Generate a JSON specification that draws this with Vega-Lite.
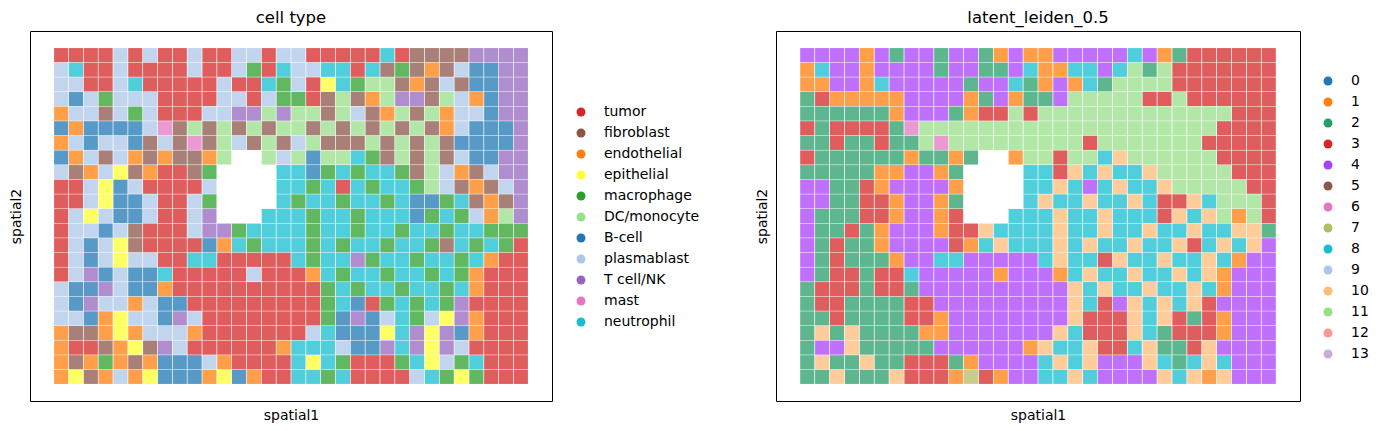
{
"$schema":"https://vega.github.io/schema/vega-lite/v6.json",
"padding":{"left":8,"top":9,"right":0,"bottom":0},
"bounds":"flush",
"spacing":224,
"config":{
"view":{"stroke":"#000","strokeWidth":1},
"font":"DejaVu Sans",
"axis":{"ticks":false,"labels":false,"grid":false,"domain":false,"titleFont":"DejaVu Sans","titleFontSize":14,"titleFontWeight":"normal","titleColor":"#000","titlePadding":7},
"title":{"font":"DejaVu Sans","fontSize":16.5,"fontWeight":"normal","color":"#000","baseline":"bottom","offset":5},
"legend":{"labelFont":"DejaVu Sans","labelFontSize":14,"labelColor":"#000","rowPadding":7,"labelOffset":16,"padding":0,"symbolType":"circle","symbolSize":80,"symbolStrokeWidth":0,"symbolOpacity":1}
},
"datasets":{
"types":[{"code":"T","name":"tumor"},{"code":"F","name":"fibroblast"},{"code":"E","name":"endothelial"},{"code":"Y","name":"epithelial"},{"code":"M","name":"macrophage"},{"code":"D","name":"DC/monocyte"},{"code":"B","name":"B-cell"},{"code":"P","name":"plasmablast"},{"code":"K","name":"T cell/NK"},{"code":"S","name":"mast"},{"code":"N","name":"neutrophil"}],
"cells":[
{"x":0,"y":0,"c":"T","l":4},{"x":1,"y":0,"c":"T","l":4},{"x":2,"y":0,"c":"T","l":4},{"x":3,"y":0,"c":"T","l":4},{"x":4,"y":0,"c":"P","l":1},{"x":5,"y":0,"c":"T","l":4},{"x":6,"y":0,"c":"P","l":2},{"x":7,"y":0,"c":"T","l":4},{"x":8,"y":0,"c":"T","l":4},{"x":9,"y":0,"c":"P","l":2},{"x":10,"y":0,"c":"T","l":4},{"x":11,"y":0,"c":"T","l":4},{"x":12,"y":0,"c":"P","l":2},{"x":13,"y":0,"c":"P","l":1},{"x":14,"y":0,"c":"T","l":4},{"x":15,"y":0,"c":"P","l":1},{"x":16,"y":0,"c":"P","l":1},{"x":17,"y":0,"c":"T","l":4},{"x":18,"y":0,"c":"T","l":4},{"x":19,"y":0,"c":"T","l":4},{"x":20,"y":0,"c":"T","l":4},{"x":21,"y":0,"c":"T","l":4},{"x":22,"y":0,"c":"N","l":8},{"x":23,"y":0,"c":"T","l":4},{"x":24,"y":0,"c":"F","l":1},{"x":25,"y":0,"c":"F","l":2},{"x":26,"y":0,"c":"F","l":3},{"x":27,"y":0,"c":"F","l":3},{"x":28,"y":0,"c":"K","l":3},{"x":29,"y":0,"c":"K","l":3},{"x":30,"y":0,"c":"K","l":3},{"x":31,"y":0,"c":"K","l":3},
{"x":0,"y":1,"c":"P","l":1},{"x":1,"y":1,"c":"N","l":8},{"x":2,"y":1,"c":"T","l":4},{"x":3,"y":1,"c":"T","l":4},{"x":4,"y":1,"c":"P","l":1},{"x":5,"y":1,"c":"T","l":4},{"x":6,"y":1,"c":"T","l":4},{"x":7,"y":1,"c":"T","l":4},{"x":8,"y":1,"c":"T","l":4},{"x":9,"y":1,"c":"P","l":2},{"x":10,"y":1,"c":"T","l":4},{"x":11,"y":1,"c":"T","l":4},{"x":12,"y":1,"c":"P","l":2},{"x":13,"y":1,"c":"M","l":2},{"x":14,"y":1,"c":"T","l":4},{"x":15,"y":1,"c":"N","l":8},{"x":16,"y":1,"c":"P","l":1},{"x":17,"y":1,"c":"P","l":1},{"x":18,"y":1,"c":"N","l":8},{"x":19,"y":1,"c":"N","l":8},{"x":20,"y":1,"c":"T","l":4},{"x":21,"y":1,"c":"N","l":8},{"x":22,"y":1,"c":"F","l":11},{"x":23,"y":1,"c":"M","l":2},{"x":24,"y":1,"c":"F","l":11},{"x":25,"y":1,"c":"E","l":3},{"x":26,"y":1,"c":"F","l":3},{"x":27,"y":1,"c":"P","l":3},{"x":28,"y":1,"c":"B","l":3},{"x":29,"y":1,"c":"B","l":3},{"x":30,"y":1,"c":"K","l":3},{"x":31,"y":1,"c":"K","l":3},
{"x":0,"y":2,"c":"P","l":1},{"x":1,"y":2,"c":"P","l":1},{"x":2,"y":2,"c":"T","l":4},{"x":3,"y":2,"c":"T","l":4},{"x":4,"y":2,"c":"P","l":1},{"x":5,"y":2,"c":"N","l":8},{"x":6,"y":2,"c":"T","l":4},{"x":7,"y":2,"c":"T","l":4},{"x":8,"y":2,"c":"T","l":4},{"x":9,"y":2,"c":"T","l":4},{"x":10,"y":2,"c":"T","l":4},{"x":11,"y":2,"c":"P","l":2},{"x":12,"y":2,"c":"T","l":4},{"x":13,"y":2,"c":"T","l":4},{"x":14,"y":2,"c":"N","l":8},{"x":15,"y":2,"c":"M","l":2},{"x":16,"y":2,"c":"P","l":1},{"x":17,"y":2,"c":"T","l":4},{"x":18,"y":2,"c":"Y","l":1},{"x":19,"y":2,"c":"N","l":8},{"x":20,"y":2,"c":"M","l":2},{"x":21,"y":2,"c":"D","l":11},{"x":22,"y":2,"c":"D","l":11},{"x":23,"y":2,"c":"F","l":11},{"x":24,"y":2,"c":"E","l":11},{"x":25,"y":2,"c":"F","l":3},{"x":26,"y":2,"c":"P","l":3},{"x":27,"y":2,"c":"F","l":3},{"x":28,"y":2,"c":"B","l":3},{"x":29,"y":2,"c":"B","l":3},{"x":30,"y":2,"c":"K","l":3},{"x":31,"y":2,"c":"K","l":3},
{"x":0,"y":3,"c":"P","l":2},{"x":1,"y":3,"c":"B","l":3},{"x":2,"y":3,"c":"P","l":1},{"x":3,"y":3,"c":"M","l":1},{"x":4,"y":3,"c":"P","l":1},{"x":5,"y":3,"c":"P","l":1},{"x":6,"y":3,"c":"P","l":1},{"x":7,"y":3,"c":"T","l":4},{"x":8,"y":3,"c":"T","l":4},{"x":9,"y":3,"c":"T","l":4},{"x":10,"y":3,"c":"T","l":4},{"x":11,"y":3,"c":"P","l":1},{"x":12,"y":3,"c":"P","l":2},{"x":13,"y":3,"c":"T","l":4},{"x":14,"y":3,"c":"P","l":1},{"x":15,"y":3,"c":"M","l":2},{"x":16,"y":3,"c":"M","l":2},{"x":17,"y":3,"c":"T","l":4},{"x":18,"y":3,"c":"F","l":11},{"x":19,"y":3,"c":"D","l":11},{"x":20,"y":3,"c":"F","l":11},{"x":21,"y":3,"c":"E","l":11},{"x":22,"y":3,"c":"D","l":11},{"x":23,"y":3,"c":"K","l":3},{"x":24,"y":3,"c":"K","l":3},{"x":25,"y":3,"c":"F","l":11},{"x":26,"y":3,"c":"D","l":3},{"x":27,"y":3,"c":"P","l":3},{"x":28,"y":3,"c":"E","l":3},{"x":29,"y":3,"c":"B","l":3},{"x":30,"y":3,"c":"K","l":3},{"x":31,"y":3,"c":"K","l":3},
{"x":0,"y":4,"c":"E","l":2},{"x":1,"y":4,"c":"P","l":2},{"x":2,"y":4,"c":"P","l":2},{"x":3,"y":4,"c":"F","l":2},{"x":4,"y":4,"c":"P","l":2},{"x":5,"y":4,"c":"M","l":2},{"x":6,"y":4,"c":"P","l":1},{"x":7,"y":4,"c":"T","l":4},{"x":8,"y":4,"c":"T","l":4},{"x":9,"y":4,"c":"T","l":4},{"x":10,"y":4,"c":"P","l":2},{"x":11,"y":4,"c":"P","l":1},{"x":12,"y":4,"c":"K","l":3},{"x":13,"y":4,"c":"K","l":3},{"x":14,"y":4,"c":"D","l":11},{"x":15,"y":4,"c":"K","l":3},{"x":16,"y":4,"c":"D","l":11},{"x":17,"y":4,"c":"D","l":11},{"x":18,"y":4,"c":"F","l":11},{"x":19,"y":4,"c":"D","l":11},{"x":20,"y":4,"c":"P","l":11},{"x":21,"y":4,"c":"F","l":11},{"x":22,"y":4,"c":"E","l":11},{"x":23,"y":4,"c":"D","l":11},{"x":24,"y":4,"c":"F","l":11},{"x":25,"y":4,"c":"D","l":11},{"x":26,"y":4,"c":"E","l":11},{"x":27,"y":4,"c":"P","l":11},{"x":28,"y":4,"c":"P","l":11},{"x":29,"y":4,"c":"B","l":3},{"x":30,"y":4,"c":"K","l":3},{"x":31,"y":4,"c":"K","l":3},
{"x":0,"y":5,"c":"B","l":3},{"x":1,"y":5,"c":"E","l":2},{"x":2,"y":5,"c":"B","l":3},{"x":3,"y":5,"c":"B","l":3},{"x":4,"y":5,"c":"B","l":3},{"x":5,"y":5,"c":"B","l":3},{"x":6,"y":5,"c":"P","l":2},{"x":7,"y":5,"c":"S","l":6},{"x":8,"y":5,"c":"F","l":11},{"x":9,"y":5,"c":"D","l":11},{"x":10,"y":5,"c":"F","l":11},{"x":11,"y":5,"c":"D","l":11},{"x":12,"y":5,"c":"F","l":11},{"x":13,"y":5,"c":"D","l":11},{"x":14,"y":5,"c":"F","l":11},{"x":15,"y":5,"c":"D","l":11},{"x":16,"y":5,"c":"D","l":11},{"x":17,"y":5,"c":"F","l":11},{"x":18,"y":5,"c":"D","l":11},{"x":19,"y":5,"c":"F","l":11},{"x":20,"y":5,"c":"D","l":11},{"x":21,"y":5,"c":"F","l":11},{"x":22,"y":5,"c":"D","l":11},{"x":23,"y":5,"c":"F","l":11},{"x":24,"y":5,"c":"D","l":11},{"x":25,"y":5,"c":"F","l":11},{"x":26,"y":5,"c":"E","l":11},{"x":27,"y":5,"c":"P","l":11},{"x":28,"y":5,"c":"B","l":3},{"x":29,"y":5,"c":"B","l":3},{"x":30,"y":5,"c":"B","l":3},{"x":31,"y":5,"c":"K","l":3},
{"x":0,"y":6,"c":"E","l":2},{"x":1,"y":6,"c":"P","l":2},{"x":2,"y":6,"c":"B","l":3},{"x":3,"y":6,"c":"P","l":2},{"x":4,"y":6,"c":"P","l":2},{"x":5,"y":6,"c":"B","l":3},{"x":6,"y":6,"c":"F","l":2},{"x":7,"y":6,"c":"P","l":2},{"x":8,"y":6,"c":"F","l":11},{"x":9,"y":6,"c":"S","l":6},{"x":10,"y":6,"c":"F","l":11},{"x":11,"y":6,"c":"D","l":11},{"x":12,"y":6,"c":"P","l":11},{"x":13,"y":6,"c":"F","l":11},{"x":14,"y":6,"c":"D","l":11},{"x":15,"y":6,"c":"F","l":11},{"x":16,"y":6,"c":"P","l":11},{"x":17,"y":6,"c":"D","l":11},{"x":18,"y":6,"c":"F","l":11},{"x":19,"y":6,"c":"F","l":3},{"x":20,"y":6,"c":"F","l":11},{"x":21,"y":6,"c":"D","l":11},{"x":22,"y":6,"c":"F","l":11},{"x":23,"y":6,"c":"D","l":11},{"x":24,"y":6,"c":"F","l":11},{"x":25,"y":6,"c":"D","l":11},{"x":26,"y":6,"c":"F","l":11},{"x":27,"y":6,"c":"B","l":3},{"x":28,"y":6,"c":"B","l":3},{"x":29,"y":6,"c":"B","l":3},{"x":30,"y":6,"c":"B","l":3},{"x":31,"y":6,"c":"K","l":3},
{"x":0,"y":7,"c":"B","l":3},{"x":1,"y":7,"c":"E","l":2},{"x":2,"y":7,"c":"P","l":2},{"x":3,"y":7,"c":"F","l":2},{"x":4,"y":7,"c":"P","l":2},{"x":5,"y":7,"c":"E","l":2},{"x":6,"y":7,"c":"F","l":2},{"x":7,"y":7,"c":"E","l":1},{"x":8,"y":7,"c":"F","l":2},{"x":9,"y":7,"c":"F","l":2},{"x":10,"y":7,"c":"E","l":1},{"x":11,"y":7,"c":"D","l":2},{"x":14,"y":7,"c":"D","l":1},{"x":15,"y":7,"c":"P","l":11},{"x":16,"y":7,"c":"D","l":11},{"x":17,"y":7,"c":"B","l":3},{"x":18,"y":7,"c":"D","l":11},{"x":19,"y":7,"c":"D","l":11},{"x":20,"y":7,"c":"N","l":8},{"x":21,"y":7,"c":"M","l":10},{"x":22,"y":7,"c":"F","l":11},{"x":23,"y":7,"c":"D","l":11},{"x":24,"y":7,"c":"F","l":11},{"x":25,"y":7,"c":"D","l":11},{"x":26,"y":7,"c":"F","l":11},{"x":27,"y":7,"c":"P","l":11},{"x":28,"y":7,"c":"B","l":3},{"x":29,"y":7,"c":"B","l":3},{"x":30,"y":7,"c":"K","l":3},{"x":31,"y":7,"c":"K","l":3},
{"x":0,"y":8,"c":"P","l":2},{"x":1,"y":8,"c":"F","l":2},{"x":2,"y":8,"c":"E","l":2},{"x":3,"y":8,"c":"P","l":2},{"x":4,"y":8,"c":"Y","l":2},{"x":5,"y":8,"c":"F","l":1},{"x":6,"y":8,"c":"E","l":1},{"x":7,"y":8,"c":"T","l":4},{"x":8,"y":8,"c":"T","l":4},{"x":9,"y":8,"c":"F","l":1},{"x":10,"y":8,"c":"M","l":2},{"x":15,"y":8,"c":"N","l":8},{"x":16,"y":8,"c":"N","l":8},{"x":17,"y":8,"c":"B","l":3},{"x":18,"y":8,"c":"M","l":10},{"x":19,"y":8,"c":"N","l":8},{"x":20,"y":8,"c":"M","l":10},{"x":21,"y":8,"c":"N","l":8},{"x":22,"y":8,"c":"N","l":8},{"x":23,"y":8,"c":"M","l":10},{"x":24,"y":8,"c":"F","l":11},{"x":25,"y":8,"c":"D","l":11},{"x":26,"y":8,"c":"P","l":11},{"x":27,"y":8,"c":"E","l":11},{"x":28,"y":8,"c":"F","l":11},{"x":29,"y":8,"c":"P","l":3},{"x":30,"y":8,"c":"K","l":3},{"x":31,"y":8,"c":"K","l":3},
{"x":0,"y":9,"c":"T","l":4},{"x":1,"y":9,"c":"T","l":4},{"x":2,"y":9,"c":"P","l":2},{"x":3,"y":9,"c":"Y","l":2},{"x":4,"y":9,"c":"B","l":3},{"x":5,"y":9,"c":"P","l":1},{"x":6,"y":9,"c":"T","l":4},{"x":7,"y":9,"c":"T","l":4},{"x":8,"y":9,"c":"T","l":4},{"x":9,"y":9,"c":"T","l":4},{"x":10,"y":9,"c":"P","l":1},{"x":15,"y":9,"c":"N","l":8},{"x":16,"y":9,"c":"N","l":8},{"x":17,"y":9,"c":"M","l":10},{"x":18,"y":9,"c":"N","l":8},{"x":19,"y":9,"c":"T","l":4},{"x":20,"y":9,"c":"N","l":8},{"x":21,"y":9,"c":"M","l":10},{"x":22,"y":9,"c":"N","l":8},{"x":23,"y":9,"c":"N","l":8},{"x":24,"y":9,"c":"M","l":10},{"x":25,"y":9,"c":"D","l":11},{"x":26,"y":9,"c":"P","l":11},{"x":27,"y":9,"c":"F","l":11},{"x":28,"y":9,"c":"E","l":11},{"x":29,"y":9,"c":"F","l":11},{"x":30,"y":9,"c":"P","l":3},{"x":31,"y":9,"c":"K","l":3},
{"x":0,"y":10,"c":"T","l":4},{"x":1,"y":10,"c":"T","l":4},{"x":2,"y":10,"c":"P","l":2},{"x":3,"y":10,"c":"Y","l":2},{"x":4,"y":10,"c":"B","l":3},{"x":5,"y":10,"c":"B","l":3},{"x":6,"y":10,"c":"P","l":1},{"x":7,"y":10,"c":"T","l":4},{"x":8,"y":10,"c":"T","l":4},{"x":9,"y":10,"c":"P","l":1},{"x":10,"y":10,"c":"M","l":2},{"x":15,"y":10,"c":"N","l":8},{"x":16,"y":10,"c":"M","l":10},{"x":17,"y":10,"c":"N","l":8},{"x":18,"y":10,"c":"N","l":8},{"x":19,"y":10,"c":"M","l":10},{"x":20,"y":10,"c":"N","l":8},{"x":21,"y":10,"c":"N","l":8},{"x":22,"y":10,"c":"M","l":10},{"x":23,"y":10,"c":"N","l":8},{"x":24,"y":10,"c":"B","l":3},{"x":25,"y":10,"c":"B","l":3},{"x":26,"y":10,"c":"M","l":10},{"x":27,"y":10,"c":"N","l":8},{"x":28,"y":10,"c":"F","l":11},{"x":29,"y":10,"c":"E","l":11},{"x":30,"y":10,"c":"F","l":11},{"x":31,"y":10,"c":"K","l":3},
{"x":0,"y":11,"c":"T","l":4},{"x":1,"y":11,"c":"P","l":2},{"x":2,"y":11,"c":"Y","l":2},{"x":3,"y":11,"c":"P","l":2},{"x":4,"y":11,"c":"B","l":3},{"x":5,"y":11,"c":"B","l":3},{"x":6,"y":11,"c":"P","l":1},{"x":7,"y":11,"c":"T","l":4},{"x":8,"y":11,"c":"T","l":4},{"x":9,"y":11,"c":"P","l":1},{"x":10,"y":11,"c":"K","l":3},{"x":14,"y":11,"c":"N","l":8},{"x":15,"y":11,"c":"N","l":8},{"x":16,"y":11,"c":"N","l":8},{"x":17,"y":11,"c":"M","l":10},{"x":18,"y":11,"c":"N","l":8},{"x":19,"y":11,"c":"N","l":8},{"x":20,"y":11,"c":"M","l":10},{"x":21,"y":11,"c":"N","l":8},{"x":22,"y":11,"c":"N","l":8},{"x":23,"y":11,"c":"N","l":8},{"x":24,"y":11,"c":"B","l":3},{"x":25,"y":11,"c":"M","l":10},{"x":26,"y":11,"c":"N","l":8},{"x":27,"y":11,"c":"M","l":10},{"x":28,"y":11,"c":"P","l":11},{"x":29,"y":11,"c":"E","l":1},{"x":30,"y":11,"c":"D","l":11},{"x":31,"y":11,"c":"K","l":3},
{"x":0,"y":12,"c":"T","l":4},{"x":1,"y":12,"c":"P","l":2},{"x":2,"y":12,"c":"P","l":2},{"x":3,"y":12,"c":"B","l":3},{"x":4,"y":12,"c":"P","l":2},{"x":5,"y":12,"c":"F","l":1},{"x":6,"y":12,"c":"T","l":4},{"x":7,"y":12,"c":"T","l":4},{"x":8,"y":12,"c":"T","l":4},{"x":9,"y":12,"c":"P","l":1},{"x":10,"y":12,"c":"K","l":3},{"x":11,"y":12,"c":"K","l":3},{"x":12,"y":12,"c":"M","l":10},{"x":13,"y":12,"c":"N","l":8},{"x":14,"y":12,"c":"N","l":8},{"x":15,"y":12,"c":"N","l":8},{"x":16,"y":12,"c":"N","l":8},{"x":17,"y":12,"c":"M","l":10},{"x":18,"y":12,"c":"N","l":8},{"x":19,"y":12,"c":"N","l":8},{"x":20,"y":12,"c":"M","l":10},{"x":21,"y":12,"c":"N","l":8},{"x":22,"y":12,"c":"N","l":8},{"x":23,"y":12,"c":"M","l":10},{"x":24,"y":12,"c":"N","l":8},{"x":25,"y":12,"c":"N","l":8},{"x":26,"y":12,"c":"M","l":10},{"x":27,"y":12,"c":"N","l":8},{"x":28,"y":12,"c":"N","l":8},{"x":29,"y":12,"c":"M","l":10},{"x":30,"y":12,"c":"M","l":10},{"x":31,"y":12,"c":"M","l":2},
{"x":0,"y":13,"c":"T","l":4},{"x":1,"y":13,"c":"P","l":2},{"x":2,"y":13,"c":"B","l":3},{"x":3,"y":13,"c":"P","l":2},{"x":4,"y":13,"c":"Y","l":2},{"x":5,"y":13,"c":"F","l":1},{"x":6,"y":13,"c":"T","l":4},{"x":7,"y":13,"c":"T","l":4},{"x":8,"y":13,"c":"T","l":4},{"x":9,"y":13,"c":"T","l":4},{"x":10,"y":13,"c":"B","l":3},{"x":11,"y":13,"c":"E","l":1},{"x":12,"y":13,"c":"N","l":8},{"x":13,"y":13,"c":"M","l":10},{"x":14,"y":13,"c":"N","l":8},{"x":15,"y":13,"c":"N","l":8},{"x":16,"y":13,"c":"N","l":8},{"x":17,"y":13,"c":"M","l":10},{"x":18,"y":13,"c":"N","l":8},{"x":19,"y":13,"c":"M","l":10},{"x":20,"y":13,"c":"N","l":8},{"x":21,"y":13,"c":"N","l":8},{"x":22,"y":13,"c":"M","l":10},{"x":23,"y":13,"c":"N","l":8},{"x":24,"y":13,"c":"N","l":8},{"x":25,"y":13,"c":"M","l":10},{"x":26,"y":13,"c":"F","l":3},{"x":27,"y":13,"c":"N","l":8},{"x":28,"y":13,"c":"M","l":10},{"x":29,"y":13,"c":"N","l":8},{"x":30,"y":13,"c":"M","l":10},{"x":31,"y":13,"c":"T","l":4},
{"x":0,"y":14,"c":"T","l":4},{"x":1,"y":14,"c":"P","l":2},{"x":2,"y":14,"c":"B","l":3},{"x":3,"y":14,"c":"P","l":2},{"x":4,"y":14,"c":"Y","l":2},{"x":5,"y":14,"c":"P","l":2},{"x":6,"y":14,"c":"P","l":1},{"x":7,"y":14,"c":"T","l":4},{"x":8,"y":14,"c":"T","l":4},{"x":9,"y":14,"c":"N","l":8},{"x":10,"y":14,"c":"N","l":8},{"x":11,"y":14,"c":"T","l":4},{"x":12,"y":14,"c":"T","l":4},{"x":13,"y":14,"c":"T","l":4},{"x":14,"y":14,"c":"T","l":4},{"x":15,"y":14,"c":"T","l":4},{"x":16,"y":14,"c":"N","l":8},{"x":17,"y":14,"c":"M","l":10},{"x":18,"y":14,"c":"N","l":8},{"x":19,"y":14,"c":"N","l":8},{"x":20,"y":14,"c":"K","l":3},{"x":21,"y":14,"c":"M","l":10},{"x":22,"y":14,"c":"N","l":8},{"x":23,"y":14,"c":"N","l":8},{"x":24,"y":14,"c":"M","l":10},{"x":25,"y":14,"c":"N","l":8},{"x":26,"y":14,"c":"N","l":8},{"x":27,"y":14,"c":"M","l":10},{"x":28,"y":14,"c":"N","l":8},{"x":29,"y":14,"c":"E","l":1},{"x":30,"y":14,"c":"T","l":4},{"x":31,"y":14,"c":"T","l":4},
{"x":0,"y":15,"c":"T","l":4},{"x":1,"y":15,"c":"P","l":2},{"x":2,"y":15,"c":"K","l":3},{"x":3,"y":15,"c":"B","l":3},{"x":4,"y":15,"c":"P","l":2},{"x":5,"y":15,"c":"B","l":3},{"x":6,"y":15,"c":"B","l":3},{"x":7,"y":15,"c":"N","l":8},{"x":8,"y":15,"c":"T","l":4},{"x":9,"y":15,"c":"T","l":4},{"x":10,"y":15,"c":"T","l":4},{"x":11,"y":15,"c":"T","l":4},{"x":12,"y":15,"c":"T","l":4},{"x":13,"y":15,"c":"P","l":1},{"x":14,"y":15,"c":"T","l":4},{"x":15,"y":15,"c":"T","l":4},{"x":16,"y":15,"c":"T","l":4},{"x":17,"y":15,"c":"E","l":1},{"x":18,"y":15,"c":"N","l":8},{"x":19,"y":15,"c":"M","l":10},{"x":20,"y":15,"c":"N","l":8},{"x":21,"y":15,"c":"N","l":8},{"x":22,"y":15,"c":"M","l":10},{"x":23,"y":15,"c":"N","l":8},{"x":24,"y":15,"c":"N","l":8},{"x":25,"y":15,"c":"M","l":10},{"x":26,"y":15,"c":"N","l":8},{"x":27,"y":15,"c":"M","l":10},{"x":28,"y":15,"c":"E","l":1},{"x":29,"y":15,"c":"T","l":4},{"x":30,"y":15,"c":"T","l":4},{"x":31,"y":15,"c":"T","l":4},
{"x":0,"y":16,"c":"P","l":2},{"x":1,"y":16,"c":"B","l":3},{"x":2,"y":16,"c":"B","l":3},{"x":3,"y":16,"c":"K","l":3},{"x":4,"y":16,"c":"P","l":2},{"x":5,"y":16,"c":"B","l":3},{"x":6,"y":16,"c":"B","l":3},{"x":7,"y":16,"c":"E","l":2},{"x":8,"y":16,"c":"T","l":4},{"x":9,"y":16,"c":"T","l":4},{"x":10,"y":16,"c":"T","l":4},{"x":11,"y":16,"c":"T","l":4},{"x":12,"y":16,"c":"T","l":4},{"x":13,"y":16,"c":"T","l":4},{"x":14,"y":16,"c":"T","l":4},{"x":15,"y":16,"c":"T","l":4},{"x":16,"y":16,"c":"T","l":4},{"x":17,"y":16,"c":"T","l":4},{"x":18,"y":16,"c":"M","l":10},{"x":19,"y":16,"c":"N","l":8},{"x":20,"y":16,"c":"M","l":10},{"x":21,"y":16,"c":"N","l":8},{"x":22,"y":16,"c":"N","l":8},{"x":23,"y":16,"c":"M","l":10},{"x":24,"y":16,"c":"N","l":8},{"x":25,"y":16,"c":"N","l":8},{"x":26,"y":16,"c":"M","l":10},{"x":27,"y":16,"c":"N","l":8},{"x":28,"y":16,"c":"E","l":1},{"x":29,"y":16,"c":"T","l":4},{"x":30,"y":16,"c":"T","l":4},{"x":31,"y":16,"c":"T","l":4},
{"x":0,"y":17,"c":"P","l":2},{"x":1,"y":17,"c":"B","l":3},{"x":2,"y":17,"c":"K","l":3},{"x":3,"y":17,"c":"P","l":2},{"x":4,"y":17,"c":"P","l":2},{"x":5,"y":17,"c":"E","l":2},{"x":6,"y":17,"c":"P","l":2},{"x":7,"y":17,"c":"B","l":3},{"x":8,"y":17,"c":"B","l":3},{"x":9,"y":17,"c":"T","l":4},{"x":10,"y":17,"c":"T","l":4},{"x":11,"y":17,"c":"T","l":4},{"x":12,"y":17,"c":"T","l":4},{"x":13,"y":17,"c":"T","l":4},{"x":14,"y":17,"c":"T","l":4},{"x":15,"y":17,"c":"T","l":4},{"x":16,"y":17,"c":"T","l":4},{"x":17,"y":17,"c":"T","l":4},{"x":18,"y":17,"c":"M","l":10},{"x":19,"y":17,"c":"N","l":8},{"x":20,"y":17,"c":"B","l":3},{"x":21,"y":17,"c":"T","l":4},{"x":22,"y":17,"c":"M","l":10},{"x":23,"y":17,"c":"N","l":8},{"x":24,"y":17,"c":"M","l":10},{"x":25,"y":17,"c":"N","l":8},{"x":26,"y":17,"c":"M","l":10},{"x":27,"y":17,"c":"K","l":3},{"x":28,"y":17,"c":"T","l":4},{"x":29,"y":17,"c":"T","l":4},{"x":30,"y":17,"c":"T","l":4},{"x":31,"y":17,"c":"T","l":4},
{"x":0,"y":18,"c":"P","l":2},{"x":1,"y":18,"c":"P","l":2},{"x":2,"y":18,"c":"B","l":3},{"x":3,"y":18,"c":"E","l":2},{"x":4,"y":18,"c":"Y","l":2},{"x":5,"y":18,"c":"P","l":2},{"x":6,"y":18,"c":"P","l":2},{"x":7,"y":18,"c":"B","l":3},{"x":8,"y":18,"c":"K","l":3},{"x":9,"y":18,"c":"P","l":1},{"x":10,"y":18,"c":"T","l":4},{"x":11,"y":18,"c":"T","l":4},{"x":12,"y":18,"c":"T","l":4},{"x":13,"y":18,"c":"T","l":4},{"x":14,"y":18,"c":"T","l":4},{"x":15,"y":18,"c":"T","l":4},{"x":16,"y":18,"c":"T","l":4},{"x":17,"y":18,"c":"T","l":4},{"x":18,"y":18,"c":"M","l":10},{"x":19,"y":18,"c":"B","l":3},{"x":20,"y":18,"c":"K","l":3},{"x":21,"y":18,"c":"B","l":3},{"x":22,"y":18,"c":"P","l":10},{"x":23,"y":18,"c":"N","l":8},{"x":24,"y":18,"c":"M","l":10},{"x":25,"y":18,"c":"P","l":3},{"x":26,"y":18,"c":"Y","l":2},{"x":27,"y":18,"c":"K","l":3},{"x":28,"y":18,"c":"E","l":1},{"x":29,"y":18,"c":"T","l":4},{"x":30,"y":18,"c":"T","l":4},{"x":31,"y":18,"c":"T","l":4},
{"x":0,"y":19,"c":"E","l":2},{"x":1,"y":19,"c":"F","l":10},{"x":2,"y":19,"c":"F","l":2},{"x":3,"y":19,"c":"E","l":10},{"x":4,"y":19,"c":"Y","l":2},{"x":5,"y":19,"c":"E","l":2},{"x":6,"y":19,"c":"P","l":2},{"x":7,"y":19,"c":"P","l":2},{"x":8,"y":19,"c":"P","l":1},{"x":9,"y":19,"c":"E","l":1},{"x":10,"y":19,"c":"T","l":4},{"x":11,"y":19,"c":"T","l":4},{"x":12,"y":19,"c":"T","l":4},{"x":13,"y":19,"c":"T","l":4},{"x":14,"y":19,"c":"T","l":4},{"x":15,"y":19,"c":"T","l":4},{"x":16,"y":19,"c":"T","l":4},{"x":17,"y":19,"c":"P","l":10},{"x":18,"y":19,"c":"N","l":8},{"x":19,"y":19,"c":"B","l":3},{"x":20,"y":19,"c":"B","l":3},{"x":21,"y":19,"c":"B","l":3},{"x":22,"y":19,"c":"Y","l":10},{"x":23,"y":19,"c":"N","l":8},{"x":24,"y":19,"c":"K","l":2},{"x":25,"y":19,"c":"Y","l":3},{"x":26,"y":19,"c":"K","l":3},{"x":27,"y":19,"c":"B","l":3},{"x":28,"y":19,"c":"E","l":1},{"x":29,"y":19,"c":"T","l":4},{"x":30,"y":19,"c":"T","l":4},{"x":31,"y":19,"c":"T","l":4},
{"x":0,"y":20,"c":"E","l":2},{"x":1,"y":20,"c":"T","l":4},{"x":2,"y":20,"c":"T","l":4},{"x":3,"y":20,"c":"F","l":10},{"x":4,"y":20,"c":"E","l":2},{"x":5,"y":20,"c":"Y","l":2},{"x":6,"y":20,"c":"F","l":2},{"x":7,"y":20,"c":"K","l":2},{"x":8,"y":20,"c":"P","l":2},{"x":9,"y":20,"c":"T","l":4},{"x":10,"y":20,"c":"T","l":4},{"x":11,"y":20,"c":"T","l":4},{"x":12,"y":20,"c":"T","l":4},{"x":13,"y":20,"c":"T","l":4},{"x":14,"y":20,"c":"T","l":4},{"x":15,"y":20,"c":"E","l":1},{"x":16,"y":20,"c":"N","l":10},{"x":17,"y":20,"c":"N","l":8},{"x":18,"y":20,"c":"N","l":8},{"x":19,"y":20,"c":"P","l":10},{"x":20,"y":20,"c":"B","l":3},{"x":21,"y":20,"c":"B","l":3},{"x":22,"y":20,"c":"K","l":8},{"x":23,"y":20,"c":"N","l":10},{"x":24,"y":20,"c":"K","l":2},{"x":25,"y":20,"c":"Y","l":2},{"x":26,"y":20,"c":"K","l":3},{"x":27,"y":20,"c":"P","l":10},{"x":28,"y":20,"c":"T","l":4},{"x":29,"y":20,"c":"T","l":4},{"x":30,"y":20,"c":"T","l":4},{"x":31,"y":20,"c":"T","l":4},
{"x":0,"y":21,"c":"E","l":2},{"x":1,"y":21,"c":"F","l":10},{"x":2,"y":21,"c":"E","l":2},{"x":3,"y":21,"c":"M","l":2},{"x":4,"y":21,"c":"E","l":10},{"x":5,"y":21,"c":"F","l":2},{"x":6,"y":21,"c":"E","l":2},{"x":7,"y":21,"c":"B","l":3},{"x":8,"y":21,"c":"B","l":3},{"x":9,"y":21,"c":"B","l":3},{"x":10,"y":21,"c":"P","l":2},{"x":11,"y":21,"c":"E","l":1},{"x":12,"y":21,"c":"T","l":4},{"x":13,"y":21,"c":"T","l":4},{"x":14,"y":21,"c":"T","l":4},{"x":15,"y":21,"c":"T","l":4},{"x":16,"y":21,"c":"N","l":8},{"x":17,"y":21,"c":"Y","l":10},{"x":18,"y":21,"c":"N","l":8},{"x":19,"y":21,"c":"M","l":10},{"x":20,"y":21,"c":"T","l":4},{"x":21,"y":21,"c":"T","l":4},{"x":22,"y":21,"c":"T","l":4},{"x":23,"y":21,"c":"M","l":10},{"x":24,"y":21,"c":"N","l":8},{"x":25,"y":21,"c":"Y","l":2},{"x":26,"y":21,"c":"P","l":8},{"x":27,"y":21,"c":"M","l":10},{"x":28,"y":21,"c":"N","l":8},{"x":29,"y":21,"c":"T","l":4},{"x":30,"y":21,"c":"T","l":4},{"x":31,"y":21,"c":"T","l":4},
{"x":0,"y":22,"c":"E","l":2},{"x":1,"y":22,"c":"Y","l":2},{"x":2,"y":22,"c":"F","l":10},{"x":3,"y":22,"c":"E","l":2},{"x":4,"y":22,"c":"P","l":2},{"x":5,"y":22,"c":"E","l":2},{"x":6,"y":22,"c":"Y","l":10},{"x":7,"y":22,"c":"B","l":3},{"x":8,"y":22,"c":"B","l":3},{"x":9,"y":22,"c":"B","l":3},{"x":10,"y":22,"c":"E","l":1},{"x":11,"y":22,"c":"Y","l":7},{"x":12,"y":22,"c":"B","l":3},{"x":13,"y":22,"c":"E","l":1},{"x":14,"y":22,"c":"T","l":4},{"x":15,"y":22,"c":"T","l":4},{"x":16,"y":22,"c":"N","l":8},{"x":17,"y":22,"c":"N","l":8},{"x":18,"y":22,"c":"M","l":10},{"x":19,"y":22,"c":"N","l":8},{"x":20,"y":22,"c":"T","l":4},{"x":21,"y":22,"c":"T","l":4},{"x":22,"y":22,"c":"T","l":4},{"x":23,"y":22,"c":"T","l":4},{"x":24,"y":22,"c":"P","l":10},{"x":25,"y":22,"c":"N","l":8},{"x":26,"y":22,"c":"M","l":10},{"x":27,"y":22,"c":"Y","l":1},{"x":28,"y":22,"c":"M","l":10},{"x":29,"y":22,"c":"T","l":4},{"x":30,"y":22,"c":"T","l":4},{"x":31,"y":22,"c":"T","l":4}
]
},
"hconcat":[
{
"width":522,"height":370,
"title":"cell type",
"data":{"name":"cells"},
"transform":[{"lookup":"c","from":{"data":{"name":"types"},"key":"code","fields":["name"]}}],
"mark":{"type":"square","size":200,"opacity":0.75},
"encoding":{
"x":{"field":"x","type":"quantitative","scale":{"domain":[-2.1,33.1],"nice":false,"zero":false},"axis":{"title":"spatial1"}},
"y":{"field":"y","type":"quantitative","scale":{"domain":[-1.65,23.65],"nice":false,"zero":false,"reverse":true},"axis":{"title":"spatial2"}},
"color":{"field":"name","type":"nominal",
"scale":{"domain":["tumor","fibroblast","endothelial","epithelial","macrophage","DC/monocyte","B-cell","plasmablast","T cell/NK","mast","neutrophil"],
"range":["#d62728","#8c564b","#ff7f0e","#ffff33","#2ca02c","#98df8a","#1f77b4","#aec7e8","#9467bd","#e377c2","#17becf"]},
"legend":{"title":null,"orient":"none","legendX":544,"legendY":74,"symbolType":"circle"}}
}
},
{
"width":524,"height":370,
"title":"latent_leiden_0.5",
"data":{"name":"cells"},
"mark":{"type":"square","size":200,"opacity":0.75},
"encoding":{
"x":{"field":"x","type":"quantitative","scale":{"domain":[-2.1,33.1],"nice":false,"zero":false},"axis":{"title":"spatial1"}},
"y":{"field":"y","type":"quantitative","scale":{"domain":[-1.65,23.65],"nice":false,"zero":false,"reverse":true},"axis":{"title":"spatial2"}},
"color":{"field":"l","type":"nominal",
"scale":{"domain":[0,1,2,3,4,5,6,7,8,9,10,11,12,13],
"range":["#1f77b4","#ff7f0e","#279e68","#d62728","#aa40fc","#8c564b","#e377c2","#b5bd61","#17becf","#aec7e8","#ffbb78","#98df8a","#ff9896","#c5b0d5"]},
"legend":{"title":null,"orient":"none","legendX":545,"legendY":43,"symbolType":"circle"}}
}
}
],
"resolve":{"scale":{"color":"independent"}}
}
